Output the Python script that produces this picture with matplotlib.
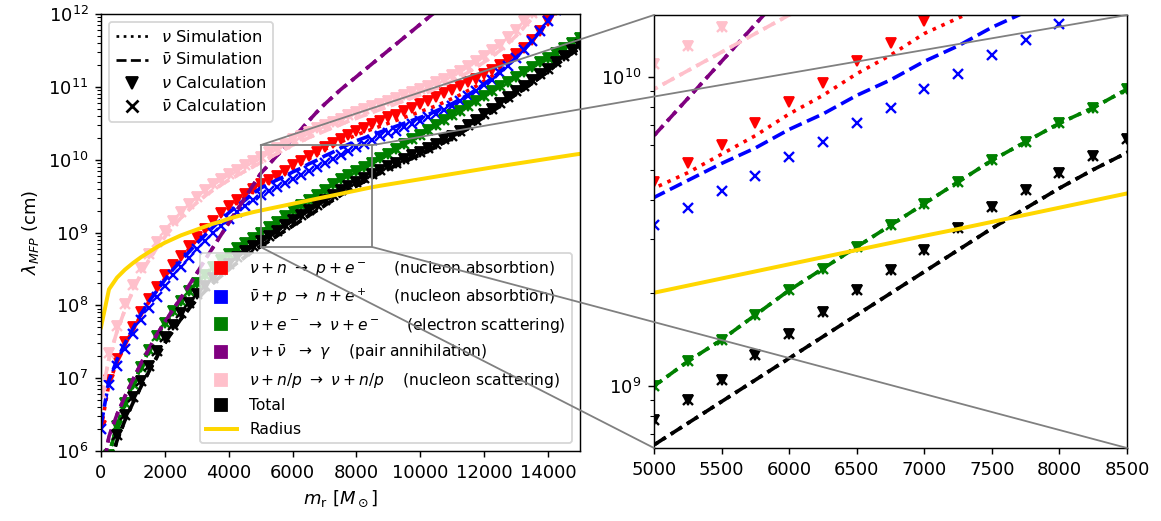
import matplotlib
matplotlib.use('Agg')
import matplotlib.pyplot as plt
import numpy as np
from matplotlib.lines import Line2D
from matplotlib.patches import Rectangle, ConnectionPatch
from matplotlib.ticker import LogLocator, NullFormatter

# enclosed mass m_r [M_sun], one value every 250
m_r = np.arange(0, 15001, 250)

# log10 of the mean free path [cm]
nu_n_calc = [6.35, 6.97, 7.26, 7.50, 7.70, 7.91, 8.09, 8.25, 8.41, 8.55,
             8.68, 8.81, 8.94, 9.05, 9.16, 9.27, 9.37, 9.45, 9.53, 9.60,
             9.66, 9.72, 9.78, 9.85, 9.92, 9.98, 10.05, 10.11, 10.18, 10.23,
             10.28, 10.34, 10.39, 10.44, 10.49, 10.53, 10.58, 10.62, 10.67, 10.71,
             10.76, 10.81, 10.86, 10.91, 10.96, 11.01, 11.06, 11.11, 11.17, 11.23,
             11.30, 11.37, 11.45, 11.54, 11.64, 11.76, 11.90, 12.05]
nu_n_sim = [6.30, 6.93, 7.22, 7.46, 7.66, 7.87, 8.05, 8.21, 8.37, 8.51,
            8.64, 8.77, 8.90, 9.01, 9.12, 9.23, 9.33, 9.41, 9.49, 9.57,
            9.64, 9.69, 9.75, 9.81, 9.88, 9.94, 10.01, 10.07, 10.14, 10.19,
            10.24, 10.29, 10.34, 10.38, 10.42, 10.46, 10.50, 10.54, 10.58, 10.62,
            10.66, 10.70, 10.74, 10.79, 10.84, 10.89, 10.95, 11.01, 11.08, 11.15,
            11.23, 11.32, 11.42, 11.52, 11.63, 11.76, 11.90, 12.05]
nubar_p_calc = [6.30, 6.90, 7.17, 7.40, 7.60, 7.80, 7.97, 8.12, 8.27, 8.41,
                8.53, 8.65, 8.77, 8.88, 8.99, 9.09, 9.19, 9.28, 9.36, 9.44,
                9.52, 9.575, 9.63, 9.68, 9.74, 9.79, 9.85, 9.90, 9.96, 10.01,
                10.07, 10.12, 10.17, 10.22, 10.27, 10.32, 10.36, 10.40, 10.45, 10.49,
                10.53, 10.58, 10.63, 10.68, 10.74, 10.80, 10.87, 10.94, 11.02, 11.10,
                11.19, 11.29, 11.40, 11.51, 11.63, 11.76, 11.91, 12.06]
nubar_p_sim = [6.35, 6.97, 7.25, 7.48, 7.68, 7.88, 8.05, 8.20, 8.35, 8.49,
               8.61, 8.73, 8.85, 8.96, 9.07, 9.17, 9.27, 9.36, 9.44, 9.53,
               9.61, 9.665, 9.72, 9.77, 9.83, 9.88, 9.94, 9.99, 10.05, 10.10,
               10.16, 10.21, 10.26, 10.30, 10.34, 10.38, 10.42, 10.46, 10.50, 10.54,
               10.58, 10.62, 10.67, 10.72, 10.77, 10.83, 10.89, 10.96, 11.04, 11.12,
               11.21, 11.30, 11.40, 11.51, 11.63, 11.76, 11.91, 12.06]
electron = [4.50, 5.95, 6.35, 6.66, 6.92, 7.15, 7.38, 7.58, 7.76, 7.92,
            8.06, 8.19, 8.31, 8.42, 8.52, 8.62, 8.71, 8.79, 8.86, 8.93,
            9.00, 9.08, 9.15, 9.23, 9.31, 9.38, 9.45, 9.52, 9.59, 9.66,
            9.73, 9.79, 9.85, 9.90, 9.96, 10.02, 10.08, 10.15, 10.21, 10.28,
            10.34, 10.41, 10.48, 10.54, 10.61, 10.67, 10.74, 10.81, 10.87, 10.94,
            11.01, 11.07, 11.14, 11.21, 11.27, 11.34, 11.40, 11.47, 11.54, 11.60,
            11.67]
pair = [5.60, 6.20, 6.50, 6.75, 6.98, 7.20, 7.40, 7.60, 7.77, 7.94,
        8.10, 8.27, 8.44, 8.62, 8.79, 8.96, 9.13, 9.30, 9.47, 9.64,
        9.81, 9.93, 10.05, 10.17, 10.29, 10.41, 10.53, 10.65, 10.76, 10.86,
        10.96, 11.05, 11.14, 11.23, 11.32, 11.41, 11.50, 11.59, 11.68, 11.77,
        11.86, 11.95, 12.04]
nucleon_calc = [6.80, 7.35, 7.72, 8.02, 8.28, 8.51, 8.70, 8.87, 9.02, 9.16,
                9.28, 9.39, 9.49, 9.58, 9.66, 9.73, 9.80, 9.86, 9.92, 9.98,
                10.04, 10.10, 10.16, 10.22, 10.28, 10.33, 10.38, 10.43, 10.47, 10.52,
                10.56, 10.61, 10.65, 10.69, 10.73, 10.77, 10.81, 10.85, 10.89, 10.93,
                10.97, 11.01, 11.06, 11.11, 11.16, 11.22, 11.28, 11.35, 11.42, 11.50,
                11.58, 11.68, 11.78, 11.90, 12.02]
nucleon_sim = [6.72, 7.27, 7.64, 7.94, 8.20, 8.43, 8.62, 8.79, 8.94, 9.08,
               9.20, 9.31, 9.41, 9.50, 9.58, 9.65, 9.72, 9.78, 9.84, 9.90,
               9.96, 10.02, 10.08, 10.14, 10.20, 10.25, 10.30, 10.35, 10.39, 10.44,
               10.48, 10.53, 10.57, 10.61, 10.65, 10.69, 10.73, 10.77, 10.81, 10.85,
               10.89, 10.93, 10.98, 11.03, 11.08, 11.14, 11.20, 11.27, 11.34, 11.42,
               11.50, 11.60, 11.70, 11.82, 11.94, 12.08]
total_calc = [4.40, 5.85, 6.22, 6.50, 6.74, 6.96, 7.17, 7.37, 7.56, 7.73,
              7.89, 8.03, 8.16, 8.27, 8.38, 8.48, 8.57, 8.66, 8.74, 8.82,
              8.89, 8.955, 9.02, 9.10, 9.17, 9.24, 9.31, 9.375, 9.44, 9.51,
              9.58, 9.635, 9.69, 9.745, 9.80, 9.86, 9.91, 9.96, 10.01, 10.06,
              10.11, 10.16, 10.22, 10.28, 10.33, 10.40, 10.47, 10.55, 10.63, 10.70,
              10.78, 10.86, 10.94, 11.01, 11.09, 11.17, 11.25, 11.34, 11.42, 11.50,
              11.57]
total_sim = [4.30, 5.77, 6.14, 6.42, 6.66, 6.88, 7.09, 7.29, 7.48, 7.65,
             7.81, 7.95, 8.08, 8.19, 8.30, 8.40, 8.49, 8.58, 8.66, 8.74,
             8.81, 8.88, 8.95, 9.02, 9.09, 9.16, 9.23, 9.30, 9.37, 9.44,
             9.51, 9.575, 9.64, 9.70, 9.755, 9.82, 9.87, 9.92, 9.97, 10.02,
             10.07, 10.12, 10.18, 10.24, 10.29, 10.36, 10.43, 10.51, 10.59, 10.66,
             10.74, 10.82, 10.90, 10.97, 11.05, 11.13, 11.21, 11.30, 11.38, 11.46,
             11.53]
radius = [7.70, 8.22, 8.38, 8.49, 8.58, 8.66, 8.73, 8.80, 8.86, 8.91,
          8.96, 9.00, 9.04, 9.08, 9.12, 9.15, 9.19, 9.22, 9.25, 9.278,
          9.302, 9.325, 9.348, 9.371, 9.394, 9.417, 9.440, 9.463, 9.486, 9.508,
          9.531, 9.554, 9.577, 9.600, 9.623, 9.642, 9.660, 9.678, 9.696, 9.714,
          9.732, 9.750, 9.768, 9.786, 9.804, 9.822, 9.840, 9.858, 9.876, 9.894,
          9.911, 9.928, 9.945, 9.962, 9.979, 9.996, 10.013, 10.030, 10.047, 10.064,
          10.08]

legend_labels = [
    r'$\nu + n\ \rightarrow\ p + e^-$     (nucleon absorbtion)',
    r'$\bar{\nu} + p\ \rightarrow\ n + e^+$     (nucleon absorbtion)',
    r'$\nu + e^-\ \rightarrow\ \nu + e^-$     (electron scattering)',
    r'$\nu + \bar{\nu}\ \ \rightarrow\ \gamma$    (pair annihilation)',
    r'$\nu + n/p\ \rightarrow\ \nu + n/p$    (nucleon scattering)',
    'Total',
]
legend_colors = ['red', 'blue', 'green', 'purple', 'pink', 'black']

ZOOM_X = (5000, 8500)
ZOOM_Y = (10**8.8, 10**10.2)


def curve(vals):
    return m_r[:len(vals)], 10.0 ** np.asarray(vals)


def sim(ax, vals, color, ls, lw=2):
    ax.plot(*curve(vals), color=color, ls=ls, lw=lw)


def calc(ax, vals, color, marker):
    if marker == 'x':
        ax.plot(*curve(vals), color=color, ls='', marker='x', ms=5.5, mew=1.3)
    else:
        ax.plot(*curve(vals), color=color, ls='', marker='v', ms=5.5)


def draw_all(ax):
    # nu + n absorption
    calc(ax, nu_n_calc, 'red', 'v')
    sim(ax, nu_n_sim, 'red', ':')
    # nubar + p absorption
    calc(ax, nubar_p_calc, 'blue', 'x')
    sim(ax, nubar_p_sim, 'blue', '--')
    # electron scattering
    calc(ax, electron, 'green', 'v')
    calc(ax, electron, 'green', 'x')
    sim(ax, electron, 'green', ':')
    sim(ax, electron, 'green', '--')
    # pair annihilation
    sim(ax, pair, 'purple', ':')
    sim(ax, pair, 'purple', '--')
    # nucleon scattering
    calc(ax, nucleon_calc, 'pink', 'v')
    calc(ax, nucleon_calc, 'pink', 'x')
    sim(ax, nucleon_sim, 'pink', ':')
    sim(ax, nucleon_sim, 'pink', '--')
    # total
    calc(ax, total_calc, 'black', 'v')
    calc(ax, total_calc, 'black', 'x')
    sim(ax, total_sim, 'black', ':')
    sim(ax, total_sim, 'black', '--')
    # radius
    ax.plot(*curve(radius), color='gold', lw=2.2)
    ax.set_yscale('log')
    ax.yaxis.set_minor_locator(LogLocator(base=10, subs=np.arange(2, 10), numticks=50))
    ax.yaxis.set_minor_formatter(NullFormatter())


fig = plt.figure(figsize=(1161 / 130, 521 / 130), dpi=130)
ax1 = fig.add_axes([101 / 1161, 1 - 451 / 521, 479 / 1161, 437 / 521])
ax2 = fig.add_axes([654 / 1161, 1 - 448 / 521, 473 / 1161, 433 / 521])

draw_all(ax1)
ax1.set_xlim(0, 15000)
ax1.set_ylim(1e6, 1e12)
ax1.set_xticks(np.arange(0, 14001, 2000))
ax1.yaxis.set_major_locator(LogLocator(base=10, numticks=10))
ax1.set_xlabel(r'$m_{\rm r}\ [M_\odot]$')
ax1.set_ylabel(r'$\lambda_{MFP}$ (cm)')

draw_all(ax2)
ax2.set_xlim(*ZOOM_X)
ax2.set_ylim(*ZOOM_Y)
ax2.set_xticks(np.arange(5000, 8501, 500))

# legends
style_handles = [
    Line2D([], [], color='k', ls=':', lw=1.5),
    Line2D([], [], color='k', ls='--', lw=1.5),
    Line2D([], [], color='k', ls='', marker='v', ms=7),
    Line2D([], [], color='k', ls='', marker='x', ms=7, mew=1.5),
]
style_labels = [r'$\nu$ Simulation', r'$\bar{\nu}$ Simulation',
                r'$\nu$ Calculation', r'$\bar{\nu}$ Calculation']
leg1 = ax1.legend(style_handles, style_labels, loc='upper left', fontsize=9,
                  labelspacing=0.45)
ax1.add_artist(leg1)

proc_handles = [Line2D([], [], color=c, ls='', marker='s', ms=7) for c in legend_colors]
proc_handles.append(Line2D([], [], color='gold', lw=2.2))
ax1.legend(proc_handles, legend_labels + ['Radius'], loc='lower right', fontsize=8.6,
           labelspacing=0.55)

# zoom box and connectors
ax1.add_patch(Rectangle((ZOOM_X[0], ZOOM_Y[0]), ZOOM_X[1] - ZOOM_X[0],
                        ZOOM_Y[1] - ZOOM_Y[0], fill=False, ec='gray', lw=1, zorder=5))
corners = [((ZOOM_X[0], ZOOM_Y[1]), (0, 1)), ((ZOOM_X[1], ZOOM_Y[1]), (1, 1)),
           ((ZOOM_X[0], ZOOM_Y[0]), (0, 0)), ((ZOOM_X[1], ZOOM_Y[0]), (1, 0))]
for a, b in corners:
    con = ConnectionPatch(xyA=a, coordsA=ax1.transData, xyB=b, coordsB=ax2.transAxes,
                          color='gray', lw=1, zorder=10)
    fig.add_artist(con)

fig.savefig('out.png', dpi=130)
